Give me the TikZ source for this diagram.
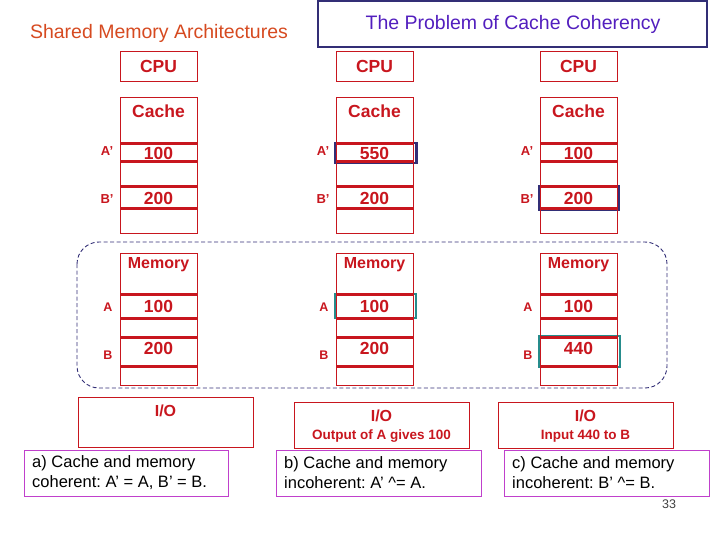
\documentclass[tikz,border=0pt]{standalone}
\usepackage{fontspec}
\setmainfont{Liberation Sans}
\frenchspacing
\definecolor{boxred}{RGB}{200,22,30}
\definecolor{titleorange}{RGB}{214,74,32}
\definecolor{titleblue}{RGB}{82,30,190}
\definecolor{navy}{RGB}{50,46,118}
\definecolor{tealmark}{RGB}{38,140,140}
\definecolor{capviolet}{RGB}{192,64,204}

\begin{document}
\begin{tikzpicture}[x=1pt,y=-1pt,
    thinbox/.style={draw=boxred,line width=0.8pt},
    rowline/.style={boxred,line width=3pt},
    bigred/.style={text=boxred,font=\bfseries\fontsize{17.5}{20}\selectfont},
    smallred/.style={text=boxred,font=\bfseries\fontsize{13}{15}\selectfont},
    iotext/.style={text=boxred,font=\bfseries\fontsize{16}{18}\selectfont},
    subtext/.style={text=boxred,font=\bfseries\fontsize{13.5}{16}\selectfont},
    captext/.style={anchor=west,align=left,inner sep=0pt,
      font=\fontsize{16.5}{20}\selectfont}]
  \useasboundingbox (0,0) rectangle (720,540);

  % titles
  \node[text=titleorange,font=\fontsize{19.5}{22}\selectfont] (shared) at (159,33)
    {Shared Memory Architectures};
  \draw[navy,line width=2pt] (318,1) rectangle (707,47);
  \node[text=titleblue,font=\fontsize{19.5}{22}\selectfont] (problem) at (513,24)
    {The Problem of Cache Coherency};

  % marked cells
  \draw[navy,line width=2.5pt] (335.5,143) rectangle (416.5,163);
  \draw[navy,line width=2.5pt] (539,186) rectangle (619,210);
  \draw[tealmark,line width=2.5pt] (335,294) rectangle (416,318);
  \draw[tealmark,line width=2.5pt] (539,336) rectangle (620,367);

  \foreach \c/\x/\ca/\cb/\ma/\mb in {
    1/120/100/200/100/200,
    2/336/550/200/100/200,
    3/540/100/200/100/440}{
    % cpu and cache
    \draw[thinbox] (\x,51) rectangle (\x+77,81);
    \node[bigred] (cpu\c) at (\x+38.5,66) {CPU};
    \draw[thinbox] (\x,97) rectangle (\x+77,233);
    \node[bigred] (cache\c) at (\x+38.5,111) {Cache};
    \draw[rowline] (\x,144) -- (\x+77,144) (\x,162) -- (\x+77,162);
    \draw[rowline] (\x,187) -- (\x+77,187) (\x,209) -- (\x+77,209);
    \node[bigred] (ca\c) at (\x+38.5,153) {\ca};
    \node[bigred] (cb\c) at (\x+38.5,198) {\cb};
    \node[smallred] (la\c) at (\x-13,151) {A’};
    \node[smallred] (lb\c) at (\x-13,199) {B’};
    % memory
    \draw[thinbox] (\x,253) rectangle (\x+77,385);
    \node[text=boxred,font=\bfseries\fontsize{16}{18}\selectfont] (mem\c)
      at (\x+38.5,265) {Memory};
    \draw[rowline] (\x,294) -- (\x+77,294) (\x,318) -- (\x+77,318);
    \draw[rowline] (\x,337) -- (\x+77,337) (\x,366) -- (\x+77,366);
    \node[bigred] (ma\c) at (\x+38.5,306) {\ma};
    \node[bigred] (mb\c) at (\x+38.5,348) {\mb};
    \node[smallred,font=\bfseries\fontsize{12.5}{15}\selectfont] (lma\c)
      at (\x-12,307) {A};
    \node[smallred,font=\bfseries\fontsize{12.5}{15}\selectfont] (lmb\c)
      at (\x-12,355) {B};
  }

  % shared memory region
  \draw[navy,line width=0.9pt,dash pattern=on 4pt off 2.5pt,rounded corners=22pt]
    (77,242) rectangle (667,388);

  % i/o boxes
  \draw[thinbox] (78,397) rectangle (253,447);
  \node[iotext] (io1) at (165.5,411) {I/O};
  \draw[thinbox] (294,402) rectangle (469,448);
  \node[iotext] (io2) at (381.5,416) {I/O};
  \node[subtext] (out2) at (381.5,436) {Output of A gives 100};
  \draw[thinbox] (498,402) rectangle (673,448);
  \node[iotext] (io3) at (585.5,416) {I/O};
  \node[subtext] (in3) at (585.5,436) {Input 440 to B};

  % captions
  \draw[capviolet,line width=1pt] (24,450) rectangle (228,496);
  \node[captext] (capa) at (32,473) {a) Cache and memory\\coherent: A’ = A, B’ = B.};
  \draw[capviolet,line width=1pt] (276,450) rectangle (481,496);
  \node[captext] (capb) at (284,473) {b) Cache and memory\\incoherent: A’ \textasciicircum= A.};
  \draw[capviolet,line width=1pt] (504,450) rectangle (709,496);
  \node[captext] (capc) at (512,473) {c) Cache and memory\\incoherent: B’ \textasciicircum= B.};

  \node[text=black!75,font=\fontsize{12.5}{14}\selectfont] (page) at (669,504) {33};
\end{tikzpicture}
\end{document}
